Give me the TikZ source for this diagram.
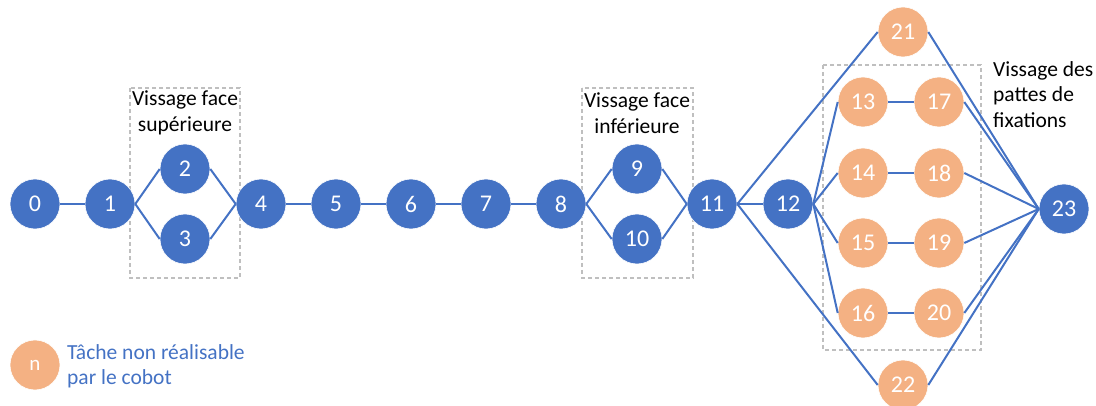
\documentclass[tikz,border=0pt]{standalone}
\usepackage{fontspec}
\setmainfont{Carlito}
\definecolor{nblue}{HTML}{4472C4}
\definecolor{norange}{HTML}{F4B183}
\definecolor{dgrey}{HTML}{BFBFBF}
\begin{document}
\begin{tikzpicture}[x=1pt,y=-1pt,
  task/.style={circle, minimum size=50pt, inner sep=0pt, fill=nblue, draw=white, line width=0.6pt, text=white, font=\fontsize{24}{28}\selectfont},
  human/.style={task, fill=norange},
  link/.style={draw=nblue, line width=2pt},
  group/.style={draw=dgrey, line width=1.5pt, dash pattern=on 4pt off 3pt},
  lbl/.style={font=\fontsize{21.5}{25.5}\selectfont, inner sep=0pt, align=center}
]
\useasboundingbox (0,0) rectangle (1096,406);
% dashed groups
\draw[group] (130,88) rectangle (240,278);
\draw[group] (582,88) rectangle (693,278);
\draw[group] (823,65) rectangle (981,350);
% nodes
\node[task] (n0) at (35,204) {0};
\node[task] (n1) at (110,204) {1};
\node[task] (n2) at (185,169) {2};
\node[task] (n3) at (185,239) {3};
\node[task] (n4) at (261,204) {4};
\node[task] (n5) at (336,204) {5};
\node[task] (n6) at (411,204) {6};
\node[task] (n7) at (486,204) {7};
\node[task] (n8) at (561,204) {8};
\node[task] (n9) at (637,169) {9};
\node[task] (n10) at (637,239) {10};
\node[task] (n11) at (712,204) {11};
\node[task] (n12) at (788,204) {12};
\node[human] (n21) at (903,32) {21};
\node[human] (n13) at (863,102) {13};
\node[human] (n17) at (939,102) {17};
\node[human] (n14) at (863,173) {14};
\node[human] (n18) at (939,173) {18};
\node[human] (n15) at (863,243) {15};
\node[human] (n19) at (939,243) {19};
\node[human] (n16) at (863,313) {16};
\node[human] (n20) at (939,313) {20};
\node[human] (n22) at (903,385) {22};
\node[task] (n23) at (1064,209) {23};
% edges
\foreach \a/\b in {n0/n1,n1/n2,n1/n3,n2/n4,n3/n4,n4/n5,n5/n6,n6/n7,n7/n8,n8/n9,n8/n10,n9/n11,n10/n11,n11/n12,n11/n21,n11/n22,
  n12/n13,n12/n14,n12/n15,n12/n16,n13/n17,n14/n18,n15/n19,n16/n20,
  n21/n23,n17/n23,n18/n23,n19/n23,n20/n23,n22/n23}
  \draw[link] (\a.east) -- (\b.west);
% labels
\node[lbl] (l1) at (185,113) {Vissage face\\supérieure};
\node[lbl] (l2) at (637,113) {Vissage face\\inférieure};
\node[lbl, align=left, anchor=north west] (l3) at (993,61) {Vissage des\\pattes de\\fixations};
% legend
\node[human, font=\fontsize{21}{25}\selectfont] (leg) at (35,365) {n};
\node[lbl, align=left, anchor=north west, text=nblue] (legt) at (67,344) {Tâche non réalisable\\par le cobot};
\end{tikzpicture}
\end{document}
